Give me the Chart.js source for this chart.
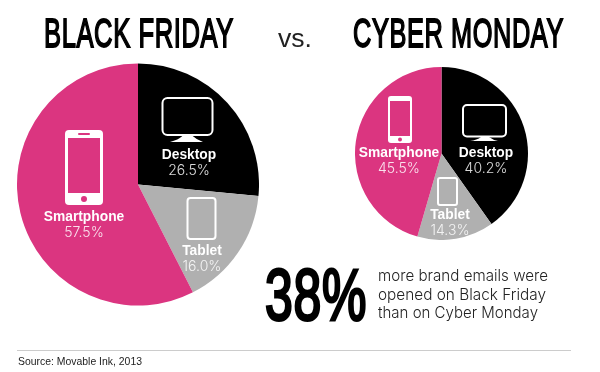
<!DOCTYPE html>
<html>
<head>
<meta charset="utf-8">
<title>Black Friday vs. Cyber Monday</title>
<script src="https://cdn.jsdelivr.net/npm/chart.js@4"></script>
<style>
  html, body { margin: 0; padding: 0; background: #fff; }
  #page { position: relative; width: 600px; height: 372px; overflow: hidden; }
  canvas { position: absolute; }
  #blackFriday { left: 17px; top: 63px; }
  #cyberMonday { left: 355px; top: 67px; }
  svg { position: absolute; left: 0; top: 0; }
  text { font-family: "Liberation Sans", Arial, sans-serif; }
  .head { font-weight: normal; fill: #000; stroke: #000; stroke-linejoin: miter; letter-spacing: 1px; }
  .name { font-weight: bold; font-size: 13.8px; fill: #fff; text-anchor: middle; }
  .pct { font-family: Inter, "Liberation Sans", sans-serif; font-weight: 300; font-size: 14px; fill: #fff; fill-opacity: .85; text-anchor: middle; }
  .note { font-family: Inter, "Liberation Sans", sans-serif; font-weight: 300; font-size: 15.5px; fill: #222; }
  .icon { fill: none; stroke: #fff; stroke-width: 2; }
  .solid { fill: #fff; }
</style>
</head>
<body>
<div id="page">
  <canvas id="blackFriday" width="242" height="243"></canvas>
  <canvas id="cyberMonday" width="173" height="173"></canvas>
  <svg id="overlay" width="600" height="372" xmlns="http://www.w3.org/2000/svg">
    <text class="head" x="44" y="47" font-size="41.500" stroke-width="1.800" textLength="190" lengthAdjust="spacingAndGlyphs">BLACK FRIDAY</text>
    <text x="278" y="47" font-family="Inter, sans-serif" font-weight="300" font-size="25" fill="#222" textLength="34" lengthAdjust="spacingAndGlyphs">vs.</text>
    <text class="head" x="353" y="47" font-size="41.500" stroke-width="1.800" textLength="211" lengthAdjust="spacingAndGlyphs">CYBER MONDAY</text>

    <!-- left pie icons -->
    <rect class="icon" x="162.500" y="98" width="50" height="37" rx="5"/>
    <path class="solid" d="M170 142 Q178 140 183 135.500 H192 Q197 140 203 142 Z"/>
    <rect class="solid" x="65" y="130" width="38" height="75" rx="4"/>
    <rect x="68" y="138" width="32" height="55" fill="#db3580"/>
    <circle cx="84" cy="199" r="3" fill="#db3580"/>
    <rect x="78" y="133" width="12" height="2" rx="1" fill="#db3580"/>
    <rect class="icon" x="187.500" y="198" width="28" height="41" rx="3"/>

    <!-- right pie icons -->
    <rect class="icon" x="463" y="105" width="43" height="31.500" rx="4"/>
    <path class="solid" d="M470 141 Q477 140 481 137 H489 Q493 140 498 141 Z"/>
    <rect class="solid" x="388" y="96" width="24" height="47" rx="3"/>
    <rect x="390" y="101" width="20" height="35" fill="#db3580"/>
    <circle cx="400" cy="139.500" r="2" fill="#db3580"/>
    <rect class="icon" x="438" y="178" width="19" height="27" rx="2"/>

    <g id="labels"></g>

    <text class="head" x="265" y="320" font-size="72" stroke-width="3" textLength="102" lengthAdjust="spacingAndGlyphs">38%</text>
    <text class="note" x="378" y="281" textLength="170" lengthAdjust="spacingAndGlyphs">more brand emails were</text>
    <text class="note" x="378" y="300" textLength="168" lengthAdjust="spacingAndGlyphs">opened on Black Friday</text>
    <text class="note" x="378" y="318" textLength="160" lengthAdjust="spacingAndGlyphs">than on Cyber Monday</text>

    <line x1="17" y1="350.500" x2="571" y2="350.500" stroke="#ccc" stroke-width="1"/>
    <text x="18" y="364.500" font-size="11.500" fill="#222" textLength="124" lengthAdjust="spacingAndGlyphs">Source: Movable Ink, 2013</text>
  </svg>
</div>

<script>
var categories = ["Desktop", "Tablet", "Smartphone"];
var blackFridayValues = [26.5, 16.0, 57.5];
var cyberMondayValues = [40.2, 14.3, 45.5];
var sliceColors = ["#000000", "#b0b0b0", "#db3580"];

// where each category's caption sits, same order as categories
var blackFridayCaptions = [[189, 159], [202, 255], [84, 221]];
var cyberMondayCaptions = [[486, 157], [450, 219], [399, 157]];

function drawPie(id, values) {
  new Chart(document.getElementById(id), {
    type: "pie",
    data: {
      labels: categories,
      datasets: [{
        data: values,
        backgroundColor: sliceColors,
        borderWidth: 0
      }]
    },
    options: {
      responsive: false,
      animation: false,
      layout: { padding: 0 },
      plugins: {
        legend: { display: false },
        tooltip: { enabled: false }
      }
    }
  });
}

function addText(cls, x, y, str) {
  var t = document.createElementNS("http://www.w3.org/2000/svg", "text");
  t.setAttribute("class", cls);
  t.setAttribute("x", x);
  t.setAttribute("y", y);
  t.textContent = str;
  document.getElementById("labels").appendChild(t);
}

function addCaptions(values, spots) {
  for (var i = 0; i < categories.length; i++) {
    addText("name", spots[i][0], spots[i][1], categories[i]);
    addText("pct", spots[i][0], spots[i][1] + 15.5, values[i].toFixed(1) + "%");
  }
}

drawPie("blackFriday", blackFridayValues);
drawPie("cyberMonday", cyberMondayValues);
addCaptions(blackFridayValues, blackFridayCaptions);
addCaptions(cyberMondayValues, cyberMondayCaptions);
</script>
</body>
</html>
